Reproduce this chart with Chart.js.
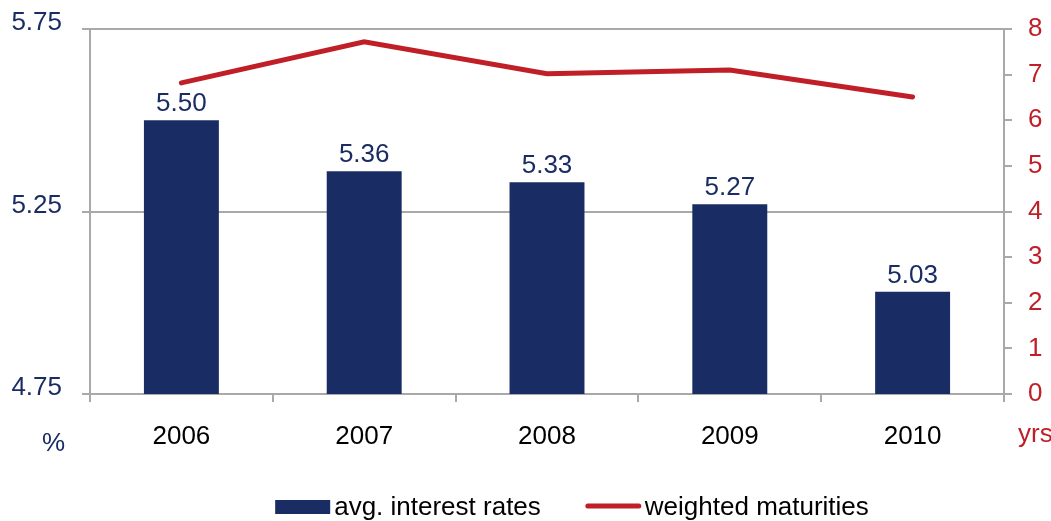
<!DOCTYPE html>
<html>
<head>
<meta charset="utf-8">
<title>Interest rates and maturities</title>
<script src="https://cdn.jsdelivr.net/npm/chart.js@4/dist/chart.umd.min.js"></script>
<style>
  html, body { margin: 0; padding: 0; background: #ffffff; }
  canvas { display: block; }
</style>
</head>
<body>
<canvas id="chart" width="1051" height="521"></canvas>
<script>
// data
const years = ['2006', '2007', '2008', '2009', '2010'];
const interestRates = [5.50, 5.36, 5.33, 5.27, 5.03];
const maturities = [6.82, 7.72, 7.02, 7.10, 6.51];
const rateTicks = [4.75, 5.25, 5.75];
const maturityTicks = [0, 1, 2, 3, 4, 5, 6, 7, 8];
const seriesNames = ['avg. interest rates', 'weighted maturities'];
const leftUnit = '%';
const rightUnit = 'yrs';

const NAVY = '#1a2c64';
const RED = '#c01f27';
const GRAY = '#a9a9a9';
const FONT = "'Liberation Sans', Arial, sans-serif";

// values above the bars, unit labels and the legend
const extras = {
    id: 'extras',
    afterDatasetsDraw(chart) {
        const ctx = chart.ctx;
        ctx.save();
        ctx.font = '26px ' + FONT;
        ctx.fillStyle = NAVY;
        ctx.textAlign = 'center';
        ctx.textBaseline = 'alphabetic';
        // dataset 1 is the bar series
        chart.getDatasetMeta(1).data.forEach((bar, i) => {
            ctx.fillText(interestRates[i].toFixed(2), bar.x, bar.y - 9);
        });

        // units under the axes
        ctx.textAlign = 'left';
        ctx.fillText(leftUnit, 42, 451);
        ctx.fillStyle = RED;
        ctx.fillText(rightUnit, 1018, 442);

        // legend
        const swatchW = 55, gap = 4, spacing = 45;
        const widths = seriesNames.map(n => swatchW + gap + ctx.measureText(n).width);
        const total = widths[0] + spacing + widths[1];
        let x = 572 - total / 2;
        const cy = 507;
        ctx.fillStyle = NAVY;
        ctx.fillRect(x, cy - 7, swatchW, 14);
        ctx.fillStyle = '#000000';
        ctx.fillText(seriesNames[0], x + swatchW + gap, 515);
        x += widths[0] + spacing;
        ctx.strokeStyle = RED;
        ctx.lineWidth = 5;
        ctx.lineCap = 'round';
        ctx.beginPath();
        ctx.moveTo(x + 2, cy - 1);
        ctx.lineTo(x + swatchW - 2, cy - 1);
        ctx.stroke();
        ctx.fillText(seriesNames[1], x + swatchW + gap, 515);
        ctx.restore();
    }
};

// fixed axis sizes, no extra room for the end labels
function fixWidth(w) {
    return scale => {
        scale.width = w;
        scale.paddingTop = 0;
        scale.paddingBottom = 0;
    };
}

new Chart(document.getElementById('chart'), {
    data: {
        labels: years,
        datasets: [
            {
                type: 'line',
                label: seriesNames[1],
                data: maturities,
                yAxisID: 'yRight',
                borderColor: RED,
                borderWidth: 5,
                borderCapStyle: 'round',
                pointRadius: 0,
                tension: 0,
                order: 0
            },
            {
                type: 'bar',
                label: seriesNames[0],
                data: interestRates,
                yAxisID: 'yLeft',
                backgroundColor: NAVY,
                barPercentage: 0.41,
                categoryPercentage: 1,
                order: 1
            }
        ]
    },
    options: {
        responsive: false,
        animation: false,
        layout: { padding: { top: 29, left: 0, right: 0, bottom: 0 } },
        plugins: {
            legend: { display: false },
            tooltip: { enabled: false }
        },
        scales: {
            x: {
                offset: true,
                grid: {
                    offset: true,
                    drawOnChartArea: false,
                    tickLength: 8,
                    color: GRAY,
                    lineWidth: 2
                },
                border: { color: GRAY, width: 2 },
                ticks: {
                    color: '#000000',
                    font: { family: FONT, size: 26 },
                    padding: 19,
                    maxRotation: 0
                },
                afterFit(scale) { scale.height = 127; }
            },
            yLeft: {
                position: 'left',
                min: 4.75,
                max: 5.75,
                afterBuildTicks(scale) { scale.ticks = rateTicks.map(v => ({ value: v })); },
                grid: { color: GRAY, lineWidth: 2, tickLength: 8 },
                border: { color: GRAY, width: 2 },
                ticks: {
                    color: NAVY,
                    font: { family: FONT, size: 26 },
                    padding: 20,
                    labelOffset: -6,
                    callback: v => v.toFixed(2)
                },
                afterFit: fixWidth(90)
            },
            yRight: {
                position: 'right',
                min: 0,
                max: 8,
                afterBuildTicks(scale) { scale.ticks = maturityTicks.map(v => ({ value: v })); },
                grid: { drawOnChartArea: false, color: GRAY, lineWidth: 2, tickLength: 8 },
                border: { color: GRAY, width: 2 },
                ticks: {
                    color: RED,
                    font: { family: FONT, size: 26 },
                    padding: 16
                },
                afterFit: fixWidth(47)
            }
        }
    },
    plugins: [extras]
});
</script>
</body>
</html>
